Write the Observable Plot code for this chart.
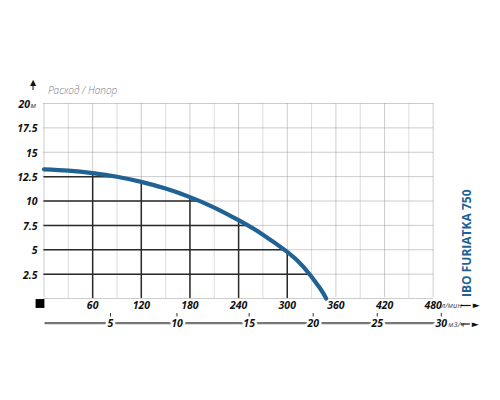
<!DOCTYPE html>
<html><head><meta charset="utf-8">
<script src="https://cdn.jsdelivr.net/npm/d3@7"></script>
<script src="https://cdn.jsdelivr.net/npm/@observablehq/plot@0.6"></script>
<style>
html,body{margin:0;padding:0;background:#fff;}
#chart svg{display:block;}
</style></head><body><div id="chart"></div>
<script>
const title = "IBO FURIATKA 750";
const axisTitle = "Расход / Напор";
const flowUnit = "л/мин";
const volUnit = "м3/ч";
const headUnit = "м";
const flowTicks = [60, 120, 180, 240, 300, 360, 420, 480];
const flowMajorGrid = [0, 60, 120, 180, 240, 300, 360, 420, 480];
const flowMinorGrid = [30, 90, 150, 210, 270, 330, 390, 450];
const headGrid = [0, 2.5, 5, 7.5, 10, 12.5, 15, 17.5, 20];
const headTicks = [2.5, 5, 7.5, 10, 12.5, 15, 17.5];
const headTopTick = [20];
const m3hTicks = [5, 10, 15, 20, 25, 30];
const m3hAtFlow = [82, 164, 253, 332, 411, 490];
const curveFlow = [0, 30, 60, 90, 120, 150, 180, 210, 240, 270, 300, 320, 340, 348];
const curveHead = [13.25, 13.11, 12.86, 12.49, 11.96, 11.27, 10.4, 9.33, 8.03, 6.55, 4.78, 3.24, 1.1, 0];
const dropFlow = [60, 120, 180, 240, 300];
const dropFlowHead = [12.86, 11.96, 10.4, 8.03, 4.78];
const dropHead = [12.5, 10, 7.5, 5, 2.5];
const dropHeadFlow = [89, 191, 250, 296, 327];

const curveData = curveFlow.map((q, i) => ({q, h: curveHead[i]}));
const vDrops = dropFlow.map((q, i) => ({q, h: dropFlowHead[i]}));
const hDrops = dropHead.map((h, i) => ({h, q: dropHeadFlow[i]}));
const m3hData = m3hTicks.map((v, i) => ({v, q: m3hAtFlow[i]}));
const originPt = [{q: 0, h: 0}];
const lastFlow = [{q: flowTicks[flowTicks.length - 1], h: 0}];
const lastM3h = [{q: m3hAtFlow[m3hAtFlow.length - 1], h: 0}];
const topTick = [{q: 0, h: headTopTick[0]}];

const FONT = "Open Sans, Liberation Sans, sans-serif";
const BLUE = "#1f6293";

const chart = Plot.plot({
  width: 500, height: 400,
  marginLeft: 43.5, marginRight: 67.3, marginTop: 103, marginBottom: 102,
  x: {domain: [0, 480], axis: null},
  y: {domain: [0, 20], axis: null},
  style: {fontFamily: FONT, background: "#fff"},
  marks: [
    Plot.ruleX(flowMinorGrid, {y1: 0, y2: 20, stroke: "#dcdcdc", strokeWidth: 1}),
    Plot.ruleX(flowMajorGrid, {y1: 0, y2: 20, insetTop: -1.5, stroke: "#999", strokeWidth: 1, strokeDasharray: "1,1"}),
    Plot.ruleY(headGrid, {x1: 0, x2: 480, stroke: "#999", strokeWidth: 1, strokeDasharray: "1,1"}),
    Plot.ruleX(vDrops, {x: "q", y1: 0, y2: "h", stroke: "#2a2a2a", strokeWidth: 1.5}),
    Plot.ruleY(hDrops, {y: "h", x1: 0, x2: "q", stroke: "#2a2a2a", strokeWidth: 1.5}),
    Plot.line(curveData, {x: "q", y: "h", curve: "natural", stroke: BLUE, strokeWidth: 4.2}),
    Plot.text(headTicks, {x: 0, y: d => d, text: d => String(d), textAnchor: "end", dx: -6.5, dy: 1,
      fontSize: 10.5, fontWeight: 700, fontStyle: "italic", fill: "#111"}),
    Plot.text(topTick, {x: "q", y: "h", text: d => String(d.h), textAnchor: "end", dx: -14, dy: 1,
      fontSize: 10.5, fontWeight: 700, fontStyle: "italic", fill: "#111"}),
    Plot.text(topTick, {x: "q", y: "h", text: () => headUnit, textAnchor: "start", dx: -13.5, dy: 1.5,
      fontSize: 8, fontStyle: "italic", fill: "#333"}),
    Plot.text(topTick, {x: "q", y: "h", text: () => axisTitle, textAnchor: "start", dx: 4, dy: -13,
      fontSize: 10, fontStyle: "italic", fontWeight: 300, fill: "#7a7a7a"}),
    Plot.ruleX(topTick, {x: "q", y1: "h", y2: "h", dx: -11, dy: -16, insetTop: -2, insetBottom: -3, stroke: "#111", strokeWidth: 1}),
    Plot.text(topTick, {x: "q", y: "h", text: () => "▲", dx: -11, dy: -21.5, fontSize: 8, fontFamily: "DejaVu Sans", fill: "#111"}),
    Plot.dot(originPt, {x: "q", y: "h", symbol: "square", r: 5, fill: "#000", stroke: null, dx: -4, dy: 5}),
    Plot.text(flowTicks, {x: d => d, y: 0, text: d => String(d), dy: 7, fontSize: 10.5, fontWeight: 700, fontStyle: "italic", fill: "#111"}),
    Plot.text(lastFlow, {x: "q", y: "h", text: () => flowUnit, textAnchor: "start", dx: 8, dy: 7.5, fontSize: 7.5, fontStyle: "italic", fill: "#444"}),
    Plot.ruleY(lastFlow, {y: "h", x1: "q", x2: "q", insetLeft: 28, insetRight: -38, dy: 7, stroke: "#111", strokeWidth: 1.2}),
    Plot.text(lastFlow, {x: "q", y: "h", text: () => "►", dx: 43, dy: 7, fontSize: 9, fontFamily: "DejaVu Sans", fill: "#111"}),
    Plot.ruleY(lastM3h, {y: "h", x1: 0, x2: "q", dy: 24.7, insetLeft: 1, stroke: "#777", strokeWidth: 2.2}),
    Plot.text(m3hData, {x: "q", y: 0, text: d => String(d.v), dy: 25.5, fontSize: 10.5, fontWeight: 700, fontStyle: "italic",
      fill: "#111", stroke: "#fff", strokeWidth: 5, paintOrder: "stroke"}),
    Plot.ruleX(m3hData, {x: "q", y1: 0, y2: 0, dy: 15, insetBottom: -3.5, stroke: "#333", strokeWidth: 1}),
    Plot.text(lastM3h, {x: "q", y: "h", text: () => volUnit, textAnchor: "start", dx: 7, dy: 26, fontSize: 7.5, fontStyle: "italic", fill: "#444"}),
    Plot.ruleY(lastM3h, {y: "h", x1: "q", x2: "q", insetLeft: 20, insetRight: -29, dy: 25.5, stroke: "#111", strokeWidth: 1.2}),
    Plot.text(lastM3h, {x: "q", y: "h", text: () => "►", dx: 34, dy: 25.5, fontSize: 9, fontFamily: "DejaVu Sans", fill: "#111"}),
    Plot.text([title], {frameAnchor: "right", text: d => d, rotate: -90, dx: 34, dy: -11.5,
      fontSize: 12, fontWeight: 700, fill: BLUE})
  ]
});
document.getElementById("chart").appendChild(chart);
</script>
</body></html>
